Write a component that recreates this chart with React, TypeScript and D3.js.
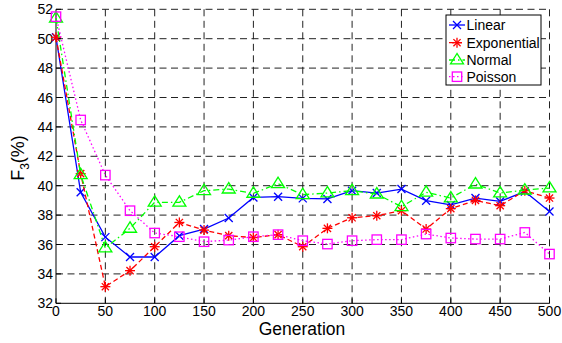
import React from "react";
import * as d3 from "d3";

const generations = [0, 25, 50, 75, 100, 125, 150, 175, 200, 225, 250, 275, 300, 325, 350, 375, 400, 425, 450, 475, 500];
const linear = [50.1, 39.55, 36.5, 35.15, 35.15, 36.6, 37.05, 37.8, 39.2, 39.25, 39.14, 39.1, 39.66, 39.5, 39.77, 38.98, 38.69, 39.16, 38.93, 39.6, 38.25];
const exponential = [50.1, 40.82, 33.13, 34.22, 35.85, 37.5, 36.98, 36.6, 36.47, 36.67, 35.85, 37.1, 37.82, 37.96, 38.3, 37.05, 38.44, 39.0, 38.64, 39.66, 39.16];
const normal = [51.4, 40.75, 35.76, 37.1, 38.87, 38.87, 39.66, 39.77, 39.48, 40.14, 39.39, 39.5, 39.66, 39.43, 38.57, 39.55, 39.16, 40.11, 39.5, 39.7, 39.84];
const poisson = [51.5, 44.47, 40.72, 38.3, 36.78, 36.53, 36.19, 36.3, 36.53, 36.67, 36.26, 36.03, 36.26, 36.33, 36.33, 36.71, 36.44, 36.37, 36.37, 36.82, 35.35];
const seriesNames = ["Linear", "Exponential", "Normal", "Poisson"];
const xTicks = [0, 50, 100, 150, 200, 250, 300, 350, 400, 450, 500];
const yTicks = [32, 34, 36, 38, 40, 42, 44, 46, 48, 50, 52];

const W = 562;
const H = 343;
const left = 56;
const right = 549.5;
const top = 9.3;
const bottom = 303.3;
const font = "Arial, 'Liberation Sans', Helvetica, sans-serif";

const styles = [
  { color: "#0000ff", dash: "", marker: "x" },
  { color: "#ff0000", dash: "5,3", marker: "star" },
  { color: "#00ff00", dash: "6,3,1.5,3", marker: "tri" },
  { color: "#ff00ff", dash: "1.5,2.5", marker: "sq" },
];

function Marker({ type, x, y, color }: { type: string; x: number; y: number; color: string }) {
  const sw = 1.3;
  if (type === "x") {
    const s = 4;
    return (
      <g stroke={color} strokeWidth={sw} fill="none">
        <line x1={x - s} y1={y - s} x2={x + s} y2={y + s} />
        <line x1={x - s} y1={y + s} x2={x + s} y2={y - s} />
      </g>
    );
  }
  if (type === "star") {
    const s = 5;
    const d = 3.6;
    return (
      <g stroke={color} strokeWidth={sw} fill="none">
        <line x1={x - s} y1={y} x2={x + s} y2={y} />
        <line x1={x} y1={y - s} x2={x} y2={y + s} />
        <line x1={x - d} y1={y - d} x2={x + d} y2={y + d} />
        <line x1={x - d} y1={y + d} x2={x + d} y2={y - d} />
      </g>
    );
  }
  if (type === "tri") {
    const s = 6.5;
    return (
      <polygon
        points={`${x},${y - s} ${x - s},${y + s * 0.6} ${x + s},${y + s * 0.6}`}
        stroke={color}
        strokeWidth={sw}
        fill="none"
      />
    );
  }
  const s = 4.7;
  return <rect x={x - s} y={y - s} width={2 * s} height={2 * s} stroke={color} strokeWidth={sw} fill="none" />;
}

export default function App() {
  const xs = d3.scaleLinear().domain([0, 500]).range([left, right]);
  const ys = d3.scaleLinear().domain([32, 52]).range([bottom, top]);
  const data = [linear, exponential, normal, poisson];
  const line = d3
    .line<number>()
    .x((_, i) => xs(generations[i]))
    .y((d) => ys(d));

  const legX = 446;
  const legY = 15;
  const legW = 95;
  const legH = 70;
  const rowY = [25, 42.7, 60, 76.7];

  return (
    <svg width={W} height={H} style={{ position: "absolute", left: 0, top: 0, background: "#fff" }}>
      <rect x={0} y={0} width={W} height={H} fill="#fff" />
      <g stroke="#222" strokeWidth={1} strokeDasharray="7,4.5" fill="none">
        {yTicks.filter((t) => t !== 32).map((t) => (
          <line key={"gy" + t} x1={left} x2={right} y1={ys(t)} y2={ys(t)} />
        ))}
        {xTicks.filter((t) => t !== 0).map((t) => (
          <line key={"gx" + t} x1={xs(t)} x2={xs(t)} y1={top} y2={bottom} />
        ))}
      </g>
      <g stroke="#000" strokeWidth={1} fill="none">
        <line x1={left} x2={left} y1={top} y2={bottom} />
        <line x1={left} x2={right} y1={bottom} y2={bottom} />
        {xTicks.map((t) => (
          <line key={"tx" + t} x1={xs(t)} x2={xs(t)} y1={bottom} y2={bottom - 5} />
        ))}
        {yTicks.map((t) => (
          <line key={"ty" + t} x1={left} x2={left + 5} y1={ys(t)} y2={ys(t)} />
        ))}
      </g>
      <g fontFamily={font} fontSize={14} fill="#000">
        {xTicks.map((t) => (
          <text key={"lx" + t} x={xs(t)} y={316} textAnchor="middle">
            {t}
          </text>
        ))}
        {yTicks.map((t) => (
          <text key={"ly" + t} x={53} y={ys(t) + 5} textAnchor="end">
            {t}
          </text>
        ))}
      </g>
      <text x={302} y={335} fontFamily={font} fontSize={17.5} textAnchor="middle">
        Generation
      </text>
      <text transform="translate(24,158) rotate(-90)" fontFamily={font} fontSize={18} textAnchor="middle">
        F<tspan fontSize={12} dy={5}>3</tspan>
        <tspan dy={-5}>(%)</tspan>
      </text>
      {data.map((vals, si) => (
        <g key={"s" + si}>
          <path
            d={line(vals) || ""}
            fill="none"
            stroke={styles[si].color}
            strokeWidth={1.3}
            strokeDasharray={styles[si].dash}
          />
          {vals.map((v, i) => (
            <Marker key={i} type={styles[si].marker} x={xs(generations[i])} y={ys(v)} color={styles[si].color} />
          ))}
        </g>
      ))}
      <rect x={legX} y={legY} width={legW} height={legH} fill="#fff" stroke="#000" strokeWidth={1} />
      {seriesNames.map((n, i) => (
        <g key={"lg" + n}>
          <line
            x1={449}
            x2={465}
            y1={rowY[i]}
            y2={rowY[i]}
            stroke={styles[i].color}
            strokeWidth={1.3}
            strokeDasharray={styles[i].dash}
          />
          <Marker type={styles[i].marker} x={457} y={rowY[i]} color={styles[i].color} />
          <text x={466.5} y={rowY[i] + 5} fontFamily={font} fontSize={14} fill="#000">
            {n}
          </text>
        </g>
      ))}
    </svg>
  );
}
